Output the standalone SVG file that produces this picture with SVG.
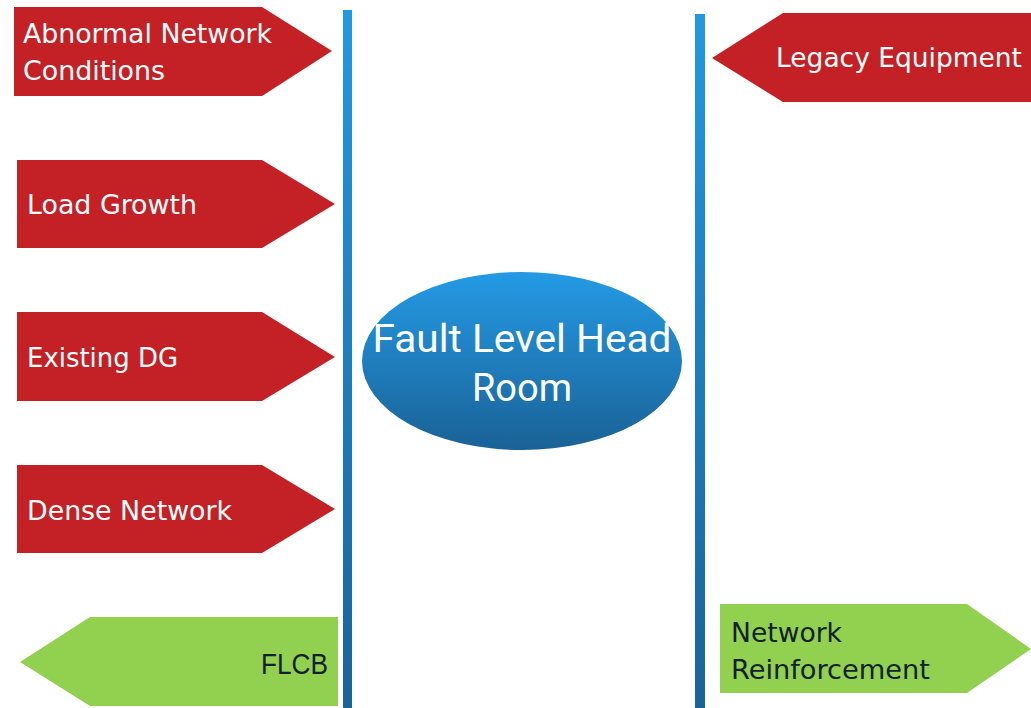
<svg xmlns="http://www.w3.org/2000/svg" width="1031" height="708" viewBox="0 0 1031 708">
<defs>
<linearGradient id="gv" x1="0" y1="0" x2="0" y2="1">
<stop offset="0" stop-color="#2398e2"/>
<stop offset="1" stop-color="#1a6399"/>
</linearGradient>
<linearGradient id="ge" x1="0" y1="0" x2="0" y2="1">
<stop offset="0" stop-color="#249ae5"/>
<stop offset="1" stop-color="#1a6296"/>
</linearGradient>
<style>
.red{fill:#c42126}
.green{fill:#92d050}
.wt{fill:#ffffff;font-family:"DejaVu Sans",sans-serif;font-size:26.5px}
.nt{fill:#13212e;font-family:"DejaVu Sans",sans-serif;font-size:26.5px}
.dt{fill:#13212e;font-family:"Liberation Sans",Arial,sans-serif;font-size:29px}
.et{fill:#ffffff;font-family:Roboto,"Liberation Sans",sans-serif;font-size:38px;text-anchor:middle}
</style>
</defs>
<rect width="1031" height="708" fill="#ffffff"/>
<g id="connectors">
<rect x="343" y="10" width="9" height="698" fill="url(#gv)"/>
<rect x="695" y="14" width="10" height="694" fill="url(#gv)"/>
</g>
<g id="abnormal">
<polygon class="red" points="14,7 262,7 332,51 262,96 14,96"/>
<text class="wt" x="23" y="43" textLength="249" lengthAdjust="spacingAndGlyphs">Abnormal Network</text>
<text class="wt" x="23" y="80" textLength="142" lengthAdjust="spacingAndGlyphs">Conditions</text>
</g>
<g id="load">
<polygon class="red" points="17,160 262,160 335,204 262,248 17,248"/>
<text class="wt" x="27" y="214" textLength="170" lengthAdjust="spacingAndGlyphs">Load Growth</text>
</g>
<g id="existing">
<polygon class="red" points="17,312 262,312 335,357 262,401 17,401"/>
<text class="wt" x="27" y="367" textLength="151" lengthAdjust="spacingAndGlyphs">Existing DG</text>
</g>
<g id="dense">
<polygon class="red" points="17,465 262,465 335,509 262,553 17,553"/>
<text class="wt" x="27" y="520" textLength="205" lengthAdjust="spacingAndGlyphs">Dense Network</text>
</g>
<g id="flcb">
<polygon class="green" points="20,662 90,617 338,617 338,706 90,706"/>
<text class="dt" x="261" y="674" textLength="67" lengthAdjust="spacingAndGlyphs">FLCB</text>
</g>
<g id="legacy">
<polygon class="red" points="712,58 783,13 1031,13 1031,102 783,102"/>
<text class="wt" x="776" y="67" textLength="246" lengthAdjust="spacingAndGlyphs">Legacy Equipment</text>
</g>
<g id="reinforcement">
<polygon class="green" points="720,604 967,604 1031,649 967,693 720,693"/>
<text class="nt" x="731" y="642" textLength="111" lengthAdjust="spacingAndGlyphs">Network</text>
<text class="nt" x="731" y="679" textLength="199" lengthAdjust="spacingAndGlyphs">Reinforcement</text>
</g>
<g id="headroom">
<ellipse cx="522" cy="361" rx="160" ry="89" fill="url(#ge)"/>
<text class="et" x="522" y="352" textLength="299" lengthAdjust="spacingAndGlyphs">Fault Level Head</text>
<text class="et" x="522" y="401">Room</text>
</g>
</svg>
